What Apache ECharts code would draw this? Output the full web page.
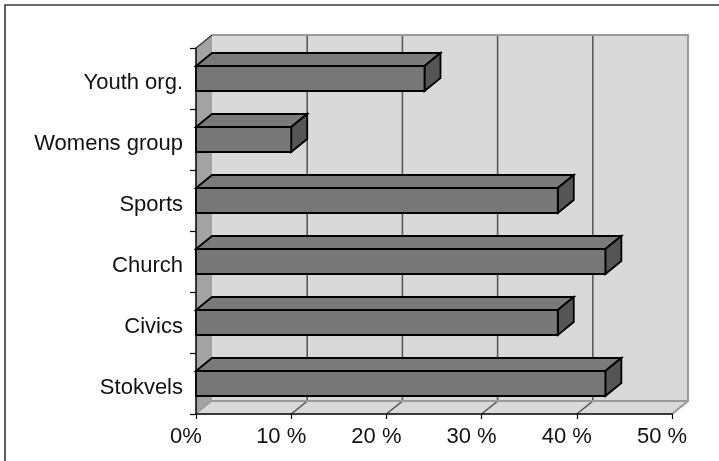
<!DOCTYPE html>
<html>
<head>
<meta charset="utf-8">
<script src="https://cdn.jsdelivr.net/npm/echarts@6/dist/echarts.min.js"></script>
<style>
  html, body { margin: 0; padding: 0; background: #ffffff; }
  #chart { width: 719px; height: 461px; }
</style>
</head>
<body>
<div id="chart"></div>
<script>
// Membership share by organisation type (%)
const categories = ['Youth org.', 'Womens group', 'Sports', 'Church', 'Civics', 'Stokvels'];
const shares = [24, 10, 38, 43, 38, 43];
const tickValues = [0, 10, 20, 30, 40, 50];

// Pseudo-3D depth of the plot box and bars, in pixels
const DX = 16, DY = -13;
const FONT = '"Liberation Sans", Arial, Helvetica, sans-serif';

// Back wall, side wall, floor and their gridlines
function renderWalls(params, api) {
  const cs = params.coordSys;
  const x0 = cs.x, x1 = cs.x + cs.width, y0 = cs.y, y1 = cs.y + cs.height;
  const kids = [];
  kids.push({ type: 'rect', shape: { x: x0 + DX, y: y0 + DY, width: x1 - x0, height: y1 - y0 },
    style: { fill: '#d9d9d9' } });
  kids.push({ type: 'polygon', shape: { points: [[x0, y1], [x0 + DX, y1 + DY], [x1 + DX, y1 + DY], [x1, y1]] },
    style: { fill: '#d9d9d9' } });
  kids.push({ type: 'polygon', shape: { points: [[x0, y0], [x0 + DX, y0 + DY], [x0 + DX, y1 + DY], [x0, y1]] },
    style: { fill: '#a3a3a3' } });
  tickValues.slice(1, -1).forEach(function (v) {
    const gx = api.coord([v, 0])[0];
    kids.push({ type: 'polyline', shape: { points: [[gx, y1], [gx + DX, y1 + DY], [gx + DX, y0 + DY]] },
      style: { fill: null, stroke: '#5a5a5a', lineWidth: 1.6 } });
  });
  // wall outline
  kids.push({ type: 'polyline', shape: { points: [[x0 + DX, y0 + DY], [x1 + DX, y0 + DY], [x1 + DX, y1 + DY], [x1, y1]] },
    style: { fill: null, stroke: '#9a9a9a', lineWidth: 2 } });
  kids.push({ type: 'polyline', shape: { points: [[x0 + DX, y1 + DY], [x1 + DX, y1 + DY]] },
    style: { fill: null, stroke: '#9a9a9a', lineWidth: 2 } });
  kids.push({ type: 'polyline', shape: { points: [[x0, y1], [x0 + DX, y1 + DY]] },
    style: { fill: null, stroke: '#8a8a8a', lineWidth: 1 } });
  kids.push({ type: 'polyline', shape: { points: [[x0, y0], [x0 + DX, y0 + DY]] },
    style: { fill: null, stroke: '#333333', lineWidth: 1.2 } });
  return { type: 'group', children: kids };
}

// One 3D bar: front face, top face and end cap
function renderBar(params, api) {
  const v = api.value(0), c = api.value(1);
  const end = api.coord([v, c]);
  const start = api.coord([0, c]);
  const h = api.size([0, 1])[1] * 0.41;
  const yt = end[1] - h / 2, yb = end[1] + h / 2;
  const xs = start[0], xe = end[0];
  const line = { stroke: '#000000', lineWidth: 1.8, lineJoin: 'miter' };
  return {
    type: 'group',
    children: [
      { type: 'polygon', shape: { points: [[xs, yt], [xs + DX, yt + DY], [xe + DX, yt + DY], [xe, yt]] },
        style: Object.assign({ fill: '#7a7a7a' }, line) },
      { type: 'polygon', shape: { points: [[xe, yt], [xe + DX, yt + DY], [xe + DX, yb + DY], [xe, yb]] },
        style: Object.assign({ fill: '#555555' }, line) },
      { type: 'rect', shape: { x: xs, y: yt, width: xe - xs, height: yb - yt },
        style: Object.assign({ fill: '#777777' }, line) }
    ]
  };
}

const chart = echarts.init(document.getElementById('chart'), null, { renderer: 'canvas' });
chart.setOption({
  animation: false,
  backgroundColor: '#ffffff',
  grid: { left: 196, right: 47, top: 48, bottom: 47, containLabel: false },
  graphic: [{
    type: 'rect', z: 100, silent: true,
    shape: { x: 5, y: 5, width: 800, height: 600 },
    style: { fill: 'none', stroke: '#3a3a3a', lineWidth: 1.6 }
  }],
  xAxis: {
    type: 'value', min: 0, max: 50, interval: 10, z: 3,
    axisLine: { show: true, lineStyle: { color: '#000000', width: 1.5 } },
    axisTick: { show: true, length: 5, lineStyle: { color: '#000000', width: 1.2 } },
    splitLine: { show: false },
    axisLabel: {
      margin: 12, fontSize: 22, color: '#111111', fontFamily: FONT,
      padding: [0, 20, 0, 0],
      formatter: function (v) { return v === 0 ? '0%' : v + ' %'; }
    }
  },
  yAxis: {
    type: 'category', data: categories, inverse: true, z: 3,
    axisLine: { show: true, lineStyle: { color: '#000000', width: 1.5 } },
    axisTick: { show: true, length: 6, lineStyle: { color: '#000000', width: 1.2 } },
    splitLine: { show: false },
    axisLabel: {
      margin: 13, color: '#111111',
      formatter: function (v) { return '{c|' + v + '}'; },
      rich: { c: { fontSize: 22, color: '#111111', fontFamily: FONT, padding: [8, 0, 0, 0] } }
    }
  },
  series: [
    {
      type: 'custom', z: 1, silent: true, clip: false,
      renderItem: renderWalls,
      data: [[0, 0]],
      encode: { x: 0, y: 1 }
    },
    {
      type: 'custom', z: 4, silent: true, clip: false,
      renderItem: renderBar,
      data: shares.map(function (v, i) { return [v, i]; }),
      encode: { x: 0, y: 1 }
    }
  ]
});
</script>
</body>
</html>
